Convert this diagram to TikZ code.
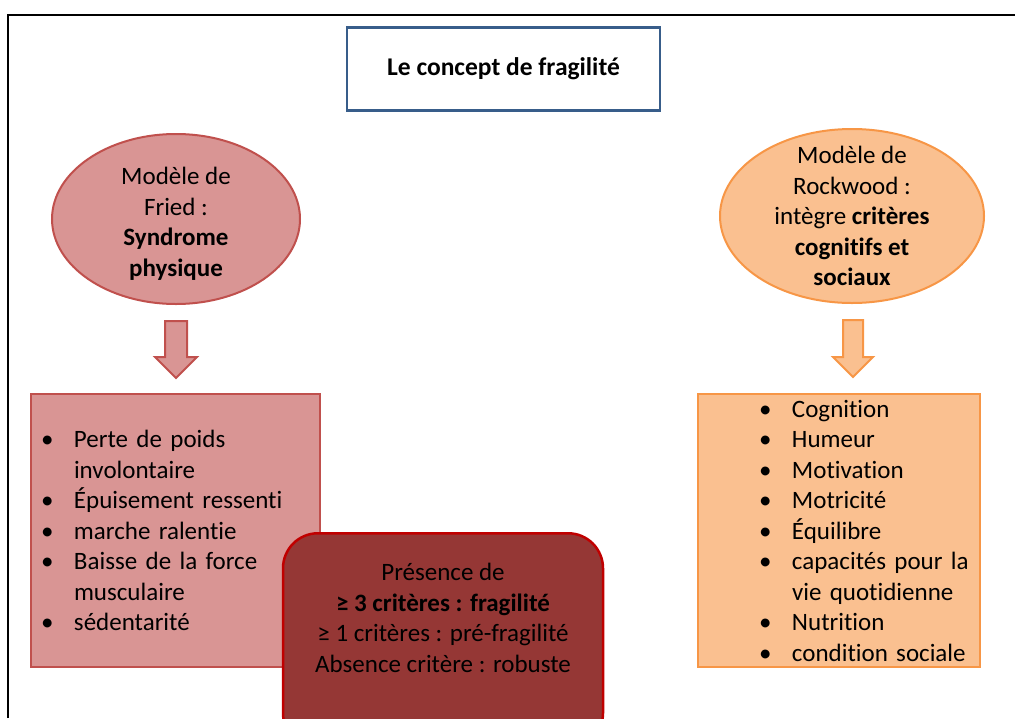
\documentclass[tikz,border=0pt]{standalone}
\usepackage{fontspec}
\setmainfont{Carlito}[Ligatures=NoCommon]
\usetikzlibrary{shapes.geometric,shapes.arrows,calc}

\definecolor{friedfill}{HTML}{D99594}
\definecolor{friedline}{HTML}{C0504D}
\definecolor{rockfill}{HTML}{FAC090}
\definecolor{rockline}{HTML}{F79646}
\definecolor{titleline}{HTML}{385D8A}
\definecolor{presfill}{HTML}{953735}
\definecolor{presline}{HTML}{C00000}

% bullet item and continuation line
\newcommand{\itm}[1][10pt]{\hspace*{#1}\makebox[33pt][l]{\textbullet}}
\newcommand{\cont}[1][10pt]{\hspace*{\dimexpr#1+33pt\relax}}
\newcommand{\ritm}{\itm[61pt]}
\newcommand{\rcont}{\cont[61pt]}

\tikzset{
  txt/.style={font=\fontsize{25}{30.5}\selectfont},
  model/.style={ellipse, draw, line width=2pt, inner sep=-25pt, align=center, txt},
  listbox/.style={rectangle, draw, line width=2pt, inner sep=0pt, align=left, txt},
  downarrow/.style={single arrow, draw, line width=2pt, minimum height=57pt,
    single arrow head extend=10pt, shape border rotate=270, anchor=tail},
}

\begin{document}
\begin{tikzpicture}[x=1pt, y=-1pt]
	\useasboundingbox (0,0) rectangle (1015,718);
	\clip (0,0) rectangle (1015,718);
	\draw[line width=1.3pt] (8,718) -- (8,15) -- (1015,15);

	\node[draw=titleline, line width=2.5pt, minimum width=313pt, minimum height=83pt, inner sep=0pt,
		font=\bfseries\fontsize{25.5}{30}\selectfont] (title) at (503.5,69) {Le concept de fragilité};

	% the two models
	\node[model, fill=friedfill, draw=friedline, minimum width=248pt, minimum height=170pt] (fried) at (176,219) {};
	\node[txt, align=center, inner sep=0pt] (friedtext) at (176,224)
		{Modèle de\\Fried :\\\textbf{Syndrome}\\\textbf{physique}};
	\node[model, fill=rockfill, draw=rockline, minimum width=264pt, minimum height=174pt] (rock) at (852,216)
		{Modèle de\\Rockwood :\\intègre \textbf{critères}\\\textbf{cognitifs et}\\\textbf{sociaux}};

	\node[downarrow, fill=friedfill, draw=friedline, minimum width=40pt, inner sep=10pt] (friedarrow) at ($(fried.south)+(0,15)$) {};
	\node[downarrow, fill=rockfill, draw=rockline, minimum width=38pt, inner sep=9pt] (rockarrow) at ($(rock.south)+(1,15)$) {};

	% criteria
	\node[listbox, fill=friedfill, draw=friedline, minimum width=289pt, minimum height=273pt, text width=289pt] (friedlist) at (175.5,530.5)
		{\itm Perte de poids\\\cont involontaire\\\itm Épuisement ressenti\\\itm marche ralentie\\\itm Baisse de la force\\\cont musculaire\\\itm sédentarité};
	\node[listbox, fill=rockfill, draw=rockline, minimum width=282pt, minimum height=273pt, text width=282pt] (rocklist) at (839,530.5)
		{\ritm Cognition\\\ritm Humeur\\\ritm Motivation\\\ritm Motricité\\\ritm Équilibre\\\ritm capacités pour la\\\rcont vie quotidienne\\\ritm Nutrition\\\ritm condition sociale};

	\node[draw=presline, fill=presfill, line width=2.5pt, rounded corners=35pt, minimum width=320pt, minimum height=215pt,
		anchor=north] (pres) at (443,532) {};
	\node[txt, align=center, anchor=north, inner sep=0pt] (prestext) at ($(pres.north)+(0,31)$)
		{Présence de\\\textbf{≥ 3 critères : fragilité}\\≥ 1 critères : pré-fragilité\\Absence critère : robuste};
\end{tikzpicture}
\end{document}
